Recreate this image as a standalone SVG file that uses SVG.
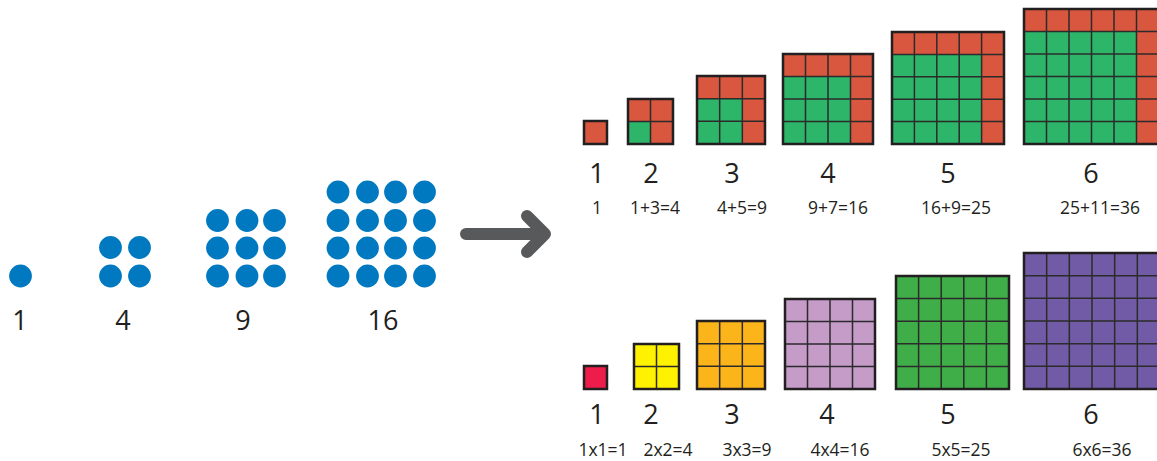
<svg xmlns="http://www.w3.org/2000/svg" width="1157" height="461" viewBox="0 0 1157 461">
<style>
text{font-family:"Open Sans","Noto Sans",sans-serif;fill:#231f20;text-anchor:middle}
.big{font-size:27px}
.sm{font-size:17.5px}
.dot{fill:#0079c1}
.red{fill:#d9573f}
.grn{fill:#2db56a}
.grid{fill:none;stroke:#2b2b2b;stroke-width:1.5}
.frame{fill:none;stroke:#231f20;stroke-width:2.5}
.arrow{fill:none;stroke:#58595b;stroke-width:12;stroke-linecap:round;stroke-linejoin:round}
</style>
<rect width="1157" height="461" fill="#ffffff"/>

<g id="dots-1">
<circle class="dot" cx="20.5" cy="276" r="11.4"/>
<text class="big" x="20" y="330">1</text>
</g>
<g id="dots-4">
<circle class="dot" cx="110.5" cy="247.5" r="11.4"/><circle class="dot" cx="139.5" cy="247.5" r="11.4"/>
<circle class="dot" cx="110.5" cy="276" r="11.4"/><circle class="dot" cx="139.5" cy="276" r="11.4"/>
<text class="big" x="123" y="330">4</text>
</g>
<g id="dots-9">
<circle class="dot" cx="217.5" cy="220.5" r="11.4"/><circle class="dot" cx="247" cy="220.5" r="11.4"/><circle class="dot" cx="274.5" cy="220.5" r="11.4"/>
<circle class="dot" cx="217.5" cy="248" r="11.4"/><circle class="dot" cx="247" cy="248" r="11.4"/><circle class="dot" cx="274.5" cy="248" r="11.4"/>
<circle class="dot" cx="217.5" cy="276" r="11.4"/><circle class="dot" cx="247" cy="276" r="11.4"/><circle class="dot" cx="274.5" cy="276" r="11.4"/>
<text class="big" x="243" y="330">9</text>
</g>
<g id="dots-16">
<circle class="dot" cx="338" cy="192" r="11.4"/><circle class="dot" cx="367.5" cy="192" r="11.4"/><circle class="dot" cx="395.5" cy="192" r="11.4"/><circle class="dot" cx="424.5" cy="192" r="11.4"/>
<circle class="dot" cx="338" cy="220.5" r="11.4"/><circle class="dot" cx="367.5" cy="220.5" r="11.4"/><circle class="dot" cx="395.5" cy="220.5" r="11.4"/><circle class="dot" cx="424.5" cy="220.5" r="11.4"/>
<circle class="dot" cx="338" cy="248" r="11.4"/><circle class="dot" cx="367.5" cy="248" r="11.4"/><circle class="dot" cx="395.5" cy="248" r="11.4"/><circle class="dot" cx="424.5" cy="248" r="11.4"/>
<circle class="dot" cx="338" cy="276" r="11.4"/><circle class="dot" cx="367.5" cy="276" r="11.4"/><circle class="dot" cx="395.5" cy="276" r="11.4"/><circle class="dot" cx="424.5" cy="276" r="11.4"/>
<text class="big" x="383" y="330">16</text>
</g>

<g id="connectors">
<path class="arrow" d="M466 234 L545 234 M527 216 L545 234 L527 252"/>
</g>

<!-- Top row: L-shaped growth -->
<g id="top-1">
<rect class="red" x="584" y="121" width="23" height="23"/>
<rect class="frame" x="584" y="121" width="23" height="23"/>
<text class="big" x="597" y="183">1</text>
<text class="sm" x="597" y="214">1</text>
</g>
<g id="top-2">
<rect class="grn" x="628" y="99" width="45" height="45"/>
<rect class="red" x="628" y="99" width="45" height="22.5"/>
<rect class="red" x="650.5" y="99" width="22.5" height="45"/>
<path class="grid" d="M650.5 99V144M628 121.5H673"/>
<rect class="frame" x="628" y="99" width="45" height="45"/>
<text class="big" x="651" y="183">2</text>
<text class="sm" x="655" y="214">1+3=4</text>
</g>
<g id="top-3">
<rect class="grn" x="697" y="76" width="68" height="68"/>
<rect class="red" x="697" y="76" width="68" height="22.67"/>
<rect class="red" x="742.33" y="76" width="22.67" height="68"/>
<path class="grid" d="M719.67 76V144M742.33 76V144M697 98.67H765M697 121.33H765"/>
<rect class="frame" x="697" y="76" width="68" height="68"/>
<text class="big" x="732" y="183">3</text>
<text class="sm" x="742" y="214">4+5=9</text>
</g>
<g id="top-4">
<rect class="grn" x="783" y="54" width="90" height="90"/>
<rect class="red" x="783" y="54" width="90" height="22.5"/>
<rect class="red" x="850.5" y="54" width="22.5" height="90"/>
<path class="grid" d="M805.5 54V144M828 54V144M850.5 54V144M783 76.5H873M783 99H873M783 121.5H873"/>
<rect class="frame" x="783" y="54" width="90" height="90"/>
<text class="big" x="828" y="183">4</text>
<text class="sm" x="838" y="214">9+7=16</text>
</g>
<g id="top-5">
<rect class="grn" x="892" y="32" width="112" height="112"/>
<rect class="red" x="892" y="32" width="112" height="22.4"/>
<rect class="red" x="981.6" y="32" width="22.4" height="112"/>
<path class="grid" d="M914.4 32V144M936.8 32V144M959.2 32V144M981.6 32V144M892 54.4H1004M892 76.8H1004M892 99.2H1004M892 121.6H1004"/>
<rect class="frame" x="892" y="32" width="112" height="112"/>
<text class="big" x="948" y="183">5</text>
<text class="sm" x="956" y="214">16+9=25</text>
</g>
<g id="top-6">
<rect class="grn" x="1024" y="9" width="135" height="135"/>
<rect class="red" x="1024" y="9" width="135" height="22.5"/>
<rect class="red" x="1136.5" y="9" width="22.5" height="135"/>
<path class="grid" d="M1046.5 9V144M1069 9V144M1091.5 9V144M1114 9V144M1136.5 9V144M1024 31.5H1159M1024 54H1159M1024 76.5H1159M1024 99H1159M1024 121.5H1159"/>
<rect class="frame" x="1024" y="9" width="135" height="135"/>
<text class="big" x="1091" y="183">6</text>
<text class="sm" x="1100" y="214">25+11=36</text>
</g>

<!-- Bottom row: n x n squares -->
<g id="bottom-1">
<rect x="584" y="366" width="23" height="23" fill="#ed1c4a"/>
<rect class="frame" x="584" y="366" width="23" height="23"/>
<text class="big" x="597" y="424">1</text>
<text class="sm" x="603" y="456">1x1=1</text>
</g>
<g id="bottom-2">
<rect x="634" y="344" width="45" height="45" fill="#fff200"/>
<path class="grid" d="M656.5 344V389M634 366.5H679"/>
<rect class="frame" x="634" y="344" width="45" height="45"/>
<text class="big" x="651" y="424">2</text>
<text class="sm" x="668" y="456">2x2=4</text>
</g>
<g id="bottom-3">
<rect x="697" y="321" width="68" height="68" fill="#fbb419"/>
<path class="grid" d="M719.67 321V389M742.33 321V389M697 343.67H765M697 366.33H765"/>
<rect class="frame" x="697" y="321" width="68" height="68"/>
<text class="big" x="732" y="424">3</text>
<text class="sm" x="747" y="456">3x3=9</text>
</g>
<g id="bottom-4">
<rect x="785" y="299" width="90" height="90" fill="#c59bc8"/>
<path class="grid" d="M807.5 299V389M830 299V389M852.5 299V389M785 321.5H875M785 344H875M785 366.5H875"/>
<rect class="frame" x="785" y="299" width="90" height="90"/>
<text class="big" x="827" y="424">4</text>
<text class="sm" x="840" y="456">4x4=16</text>
</g>
<g id="bottom-5">
<rect x="896" y="276" width="113" height="113" fill="#3fae49"/>
<path class="grid" d="M918.6 276V389M941.2 276V389M963.8 276V389M986.4 276V389M896 298.6H1009M896 321.2H1009M896 343.8H1009M896 366.4H1009"/>
<rect class="frame" x="896" y="276" width="113" height="113"/>
<text class="big" x="948" y="424">5</text>
<text class="sm" x="961" y="456">5x5=25</text>
</g>
<g id="bottom-6">
<rect x="1024" y="253" width="136" height="136" fill="#725ba6"/>
<path class="grid" d="M1046.67 253V389M1069.33 253V389M1092 253V389M1114.67 253V389M1137.33 253V389M1024 275.67H1160M1024 298.33H1160M1024 321H1160M1024 343.67H1160M1024 366.33H1160"/>
<rect class="frame" x="1024" y="253" width="136" height="136"/>
<text class="big" x="1091" y="424">6</text>
<text class="sm" x="1102" y="456">6x6=36</text>
</g>
</svg>
